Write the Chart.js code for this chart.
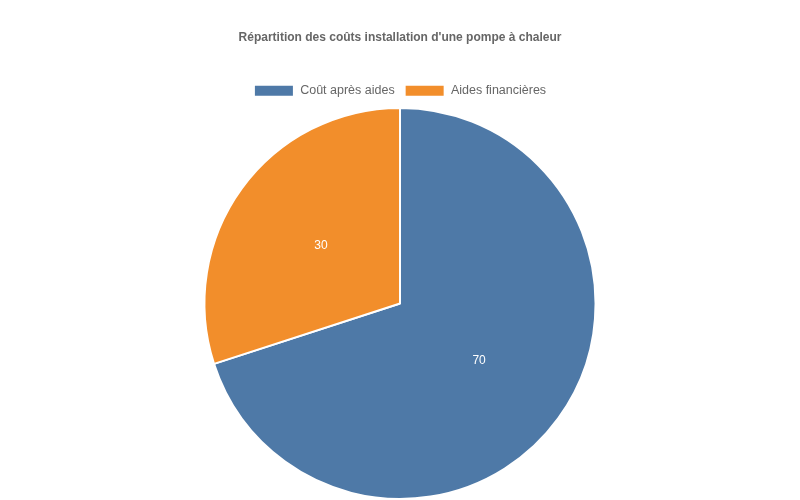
<!DOCTYPE html>
<html>
<head>
<meta charset="utf-8">
<script src="https://cdn.jsdelivr.net/npm/chart.js@4"></script>
<style>
  html, body { margin: 0; padding: 0; background: #fff; }
  #wrap { width: 800px; height: 500px; }
</style>
</head>
<body>
<div id="wrap"><canvas id="c"></canvas></div>
<script>
const labels = ['Coût après aides', 'Aides financières'];
const values = [70, 30];
const colors = ['#4e79a7', '#f28e2b'];

// values written in the middle of each slice
const sliceLabels = {
    id: 'sliceLabels',
    afterDatasetsDraw(chart) {
        const ctx = chart.ctx;
        const meta = chart.getDatasetMeta(0);
        ctx.save();
        ctx.fillStyle = '#fff';
        ctx.font = '12px "Liberation Sans", Arial, sans-serif';
        ctx.textAlign = 'center';
        ctx.textBaseline = 'middle';
        meta.data.forEach((arc, i) => {
            const p = arc.tooltipPosition();
            ctx.fillText(values[i], p.x, p.y);
        });
        ctx.restore();
    }
};

Chart.defaults.font.family = '"Liberation Sans", Arial, sans-serif';
Chart.defaults.color = '#666';

new Chart(document.getElementById('c'), {
    type: 'pie',
    data: {
        labels: labels,
        datasets: [{
            data: values,
            backgroundColor: colors,
            borderColor: '#fff',
            borderWidth: 2
        }]
    },
    options: {
        responsive: true,
        maintainAspectRatio: false,
        animation: false,
        plugins: {
            title: {
                display: true,
                text: "Répartition des coûts installation d'une pompe à chaleur",
                font: { size: 12, weight: 'bold' },
                color: '#666',
                padding: { top: 30, bottom: 30 }
            },
            legend: {
                position: 'top',
                labels: { boxWidth: 40, boxHeight: 12, font: { size: 12.5 } }
            },
            tooltip: { enabled: false }
        }
    },
    plugins: [sliceLabels]
});
</script>
</body>
</html>
